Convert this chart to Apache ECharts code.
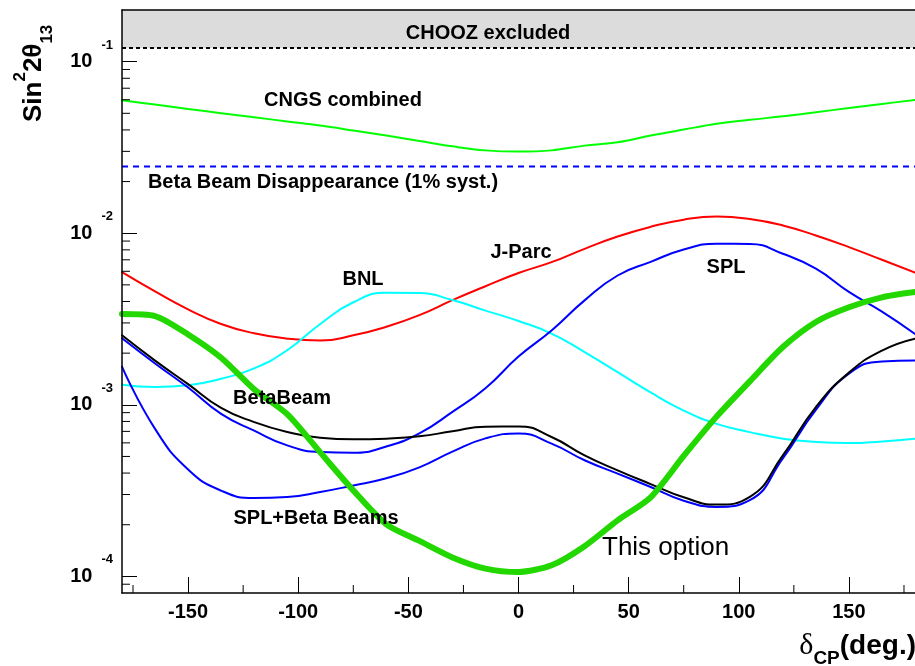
<!DOCTYPE html>
<html>
<head>
<meta charset="utf-8">
<script src="https://cdn.jsdelivr.net/npm/echarts@6/dist/echarts.min.js"></script>
<style>
  html, body { margin: 0; padding: 0; background: #fff; }
  #chart { width: 915px; height: 666px; }
</style>
</head>
<body>
<div id="chart"></div>
<script>
// CP-violating phase sampling points (degrees)
const deltaCP = [-180, -165, -150, -135, -120, -105, -90, -75, -60, -45, -30, -15,
                 0, 15, 30, 45, 60, 75, 90, 105, 120, 135, 150, 165, 180];

// 3 sigma sensitivity to sin^2(2 theta13) for each experiment
const cngsCombined = [0.0595, 0.0562, 0.0530, 0.0501, 0.0474, 0.0448, 0.0424, 0.0397, 0.0371,
                      0.0345, 0.0321, 0.0304, 0.0299, 0.0304, 0.0324, 0.0339, 0.0371, 0.0402,
                      0.0434, 0.0458, 0.0480, 0.0507, 0.0537, 0.0567, 0.0598];
const jParc = [0.00593, 0.00458, 0.00360, 0.00296, 0.00261, 0.00243, 0.00237, 0.00254, 0.00285,
               0.00333, 0.00407, 0.00491, 0.00586, 0.00678, 0.00811, 0.00957, 0.0109, 0.0120,
               0.0125, 0.0121, 0.0111, 0.00970, 0.00830, 0.00700, 0.00590];
const bnl = [0.00131, 0.00127, 0.00130, 0.00142, 0.00163, 0.00208, 0.00296, 0.00396, 0.00450,
             0.00448, 0.00408, 0.00354, 0.00308, 0.00260, 0.00203, 0.00155, 0.00118, 0.000925,
             0.000774, 0.000693, 0.000635, 0.000607, 0.000598, 0.000612, 0.000635];
const spl = [0.00244, 0.00174, 0.00126, 0.000885, 0.000707, 0.000580, 0.000530, 0.000525, 0.000572,
             0.000681, 0.000909, 0.00125, 0.00191, 0.00271, 0.00406, 0.00567, 0.00681, 0.00804,
             0.00868, 0.00866, 0.00759, 0.00621, 0.00455, 0.00349, 0.00259];
const betaBeam = [0.00254, 0.00181, 0.00132, 0.000959, 0.000793, 0.000694, 0.000642, 0.000629, 0.000635,
                  0.000655, 0.000701, 0.000746, 0.000748, 0.000649, 0.000507, 0.000415, 0.000345, 0.000289,
                  0.000262, 0.000291, 0.000507, 0.000970, 0.00154, 0.00207, 0.00243];
const splBetaBeams = [0.00167, 0.000724, 0.000420, 0.000316, 0.000286, 0.000290, 0.000310, 0.000339, 0.000373,
                      0.000432, 0.000533, 0.000637, 0.000681, 0.000594, 0.000475, 0.000397, 0.000332, 0.000276,
                      0.000254, 0.000278, 0.000487, 0.000934, 0.00152, 0.00179, 0.00181];
const thisOption = [0.00338, 0.00329, 0.00257, 0.00188, 0.00123, 0.000882, 0.000528, 0.000317, 0.000201,
                    0.000161, 0.000129, 0.000111, 0.000106, 0.000116, 0.000150, 0.000212, 0.000289, 0.000504,
                    0.000856, 0.00137, 0.00217, 0.00304, 0.00370, 0.00423, 0.00454];

// Horizontal limits
const choozLimit = 0.12;
const betaBeamDisappearance = 0.0245;

// Axis ranges and ticks
const xRange = [-180, 180];
const yRange = [8e-5, 0.2];
const xMajorTicks = [-150, -100, -50, 0, 50, 100, 150];
const xMinorTicks = [-175, -125, -75, -25, 25, 75, 125, 175];
const yMinorTicks = [9e-5,
  2e-4, 3e-4, 4e-4, 5e-4, 6e-4, 7e-4, 8e-4, 9e-4,
  2e-3, 3e-3, 4e-3, 5e-3, 6e-3, 7e-3, 8e-3, 9e-3,
  2e-2, 3e-2, 4e-2, 5e-2, 6e-2, 7e-2, 8e-2, 9e-2];

const FONT = 'Liberation Sans';

function pairs(ys) { return deltaCP.map((x, i) => [x, ys[i]]); }

function curve(name, ys, color, width, smooth, z) {
  return {
    name, type: 'line', data: pairs(ys), showSymbol: false, symbol: 'none',
    smooth, z, silent: true,
    lineStyle: { color, width, cap: 'round', join: 'round' }
  };
}

function hLine(name, value, color, dash, extra) {
  return Object.assign({
    name, type: 'line', data: [[xRange[0], value], [xRange[1], value]],
    showSymbol: false, symbol: 'none', silent: true, z: 2,
    lineStyle: { color, width: 2, type: dash }
  }, extra || {});
}

// Short tick marks drawn through the axis scales
function tickSeries(values, horizontal, len) {
  return {
    type: 'custom', silent: true, z: 6, clip: false,
    data: values.map(v => horizontal ? [xRange[0], v] : [v, yRange[0]]),
    renderItem: (params, api) => {
      const p = api.coord([api.value(0), api.value(1)]);
      const shape = horizontal
        ? { x1: p[0], y1: p[1], x2: p[0] + len, y2: p[1] }
        : { x1: p[0], y1: p[1], x2: p[0], y2: p[1] - len };
      return { type: 'line', shape, style: { stroke: '#000', lineWidth: 1 } };
    }
  };
}

function note(text, x, y, opts) {
  return {
    type: 'text', x, y, z: 20, silent: true,
    style: Object.assign({
      text, fill: '#000', font: 'bold 20px "' + FONT + '"',
      align: 'center', verticalAlign: 'middle'
    }, opts || {})
  };
}

const chart = echarts.init(document.getElementById('chart'), null, { renderer: 'canvas' });

chart.setOption({
  animation: false,
  backgroundColor: '#fff',
  grid: { left: 122, top: 10, width: 794, height: 583, containLabel: false },
  xAxis: [{
    type: 'value', min: xRange[0], max: xRange[1], position: 'bottom', z: 10,
    axisLine: { show: true, onZero: false, lineStyle: { color: '#000', width: 1.5 } },
    axisTick: { show: true, inside: true, length: 16, customValues: xMajorTicks,
                lineStyle: { color: '#000', width: 1 } },
    axisLabel: { show: true, customValues: xMajorTicks, margin: 9,
                 color: '#000', fontFamily: FONT, fontWeight: 'bold', fontSize: 20 },
    splitLine: { show: false }
  }, {
    type: 'value', min: xRange[0], max: xRange[1], position: 'top', z: 10,
    axisLine: { show: true, onZero: false, lineStyle: { color: '#000', width: 1.5 } },
    axisTick: { show: false }, axisLabel: { show: false }, splitLine: { show: false }
  }],
  yAxis: [{
    type: 'log', logBase: 10, min: yRange[0], max: yRange[1], position: 'left', z: 10,
    axisLine: { show: true, onZero: false, lineStyle: { color: '#000', width: 1.5 } },
    axisTick: { show: true, inside: true, length: 15, lineStyle: { color: '#000', width: 1 } },
    axisLabel: {
      show: true, margin: 9, showMinLabel: false, showMaxLabel: false,
      formatter: v => {
        const l = Math.log10(v), e = Math.round(l);
        if (Math.abs(l - e) > 1e-6) return '';
        return '{b|10}{s|' + e + '}';
      },
      rich: {
        b: { fontFamily: FONT, fontWeight: 'bold', fontSize: 20, color: '#000',
             lineHeight: 46, verticalAlign: 'middle' },
        s: { fontFamily: FONT, fontWeight: 'bold', fontSize: 13, color: '#000',
             lineHeight: 16, verticalAlign: 'top', padding: [0, 0, 0, 9] }
      }
    },
    splitLine: { show: false }
  }],
  series: [
    hLine('CHOOZ', choozLimit, '#000', [4, 3], {
      markArea: {
        silent: true,
        itemStyle: { color: '#dcdcdc', opacity: 1 },
        data: [[{ yAxis: choozLimit }, { yAxis: yRange[1] }]]
      }
    }),
    hLine('Beta Beam Disappearance', betaBeamDisappearance, '#0000ff', [6, 5]),
    curve('CNGS combined', cngsCombined, '#00ff00', 2, 0.4, 3),
    curve('J-Parc', jParc, '#ff0000', 2, 0.5, 3),
    curve('BNL', bnl, '#00ffff', 2, 0.5, 3),
    curve('SPL', spl, '#0000ff', 2, 0.5, 3),
    curve('SPL+Beta Beams', splBetaBeams, '#0000ff', 2, 0.5, 3),
    curve('BetaBeam', betaBeam, '#000000', 2, 0.5, 4),
    curve('This option', thisOption, '#22d800', 6, 0.25, 5),
    tickSeries(yMinorTicks, true, 8),
    tickSeries(xMinorTicks, false, 8)
  ],
  graphic: [
    note('CHOOZ excluded', 488, 33),
    note('CNGS combined', 343, 100),
    note('Beta Beam Disappearance (1% syst.)', 323, 182),
    note('J-Parc', 521, 252),
    note('BNL', 363, 279),
    note('SPL', 726, 267),
    note('BetaBeam', 282, 398),
    note('SPL+Beta Beams', 316, 518),
    note('This option', 602, 548, { font: '26px "' + FONT + '"', align: 'left' }),
    {
      type: 'text', x: 34, y: 122, rotation: Math.PI / 2, z: 20, silent: true,
      style: {
        text: '{m|Sin}{u|2}{m|2θ}{d|13}',
        align: 'left', verticalAlign: 'middle',
        rich: {
          m: { fontFamily: FONT, fontWeight: 'bold', fontSize: 26, fill: '#000',
               lineHeight: 44, verticalAlign: 'middle' },
          u: { fontFamily: FONT, fontWeight: 'bold', fontSize: 17, fill: '#000',
               lineHeight: 18, verticalAlign: 'top' },
          d: { fontFamily: FONT, fontWeight: 'bold', fontSize: 17, fill: '#000',
               lineHeight: 18, verticalAlign: 'bottom' }
        }
      }
    },
    {
      type: 'text', x: 916, y: 646, z: 20, silent: true,
      style: {
        text: '{g|δ}{c|CP}{m|(deg.)}',
        align: 'right', verticalAlign: 'middle',
        rich: {
          g: { fontFamily: 'Liberation Serif', fontSize: 30, fill: '#000',
               lineHeight: 44, verticalAlign: 'middle' },
          c: { fontFamily: FONT, fontWeight: 'bold', fontSize: 19, fill: '#000',
               lineHeight: 14, verticalAlign: 'bottom' },
          m: { fontFamily: FONT, fontWeight: 'bold', fontSize: 28, fill: '#000',
               lineHeight: 44, verticalAlign: 'middle' }
        }
      }
    }
  ]
});
</script>
</body>
</html>
